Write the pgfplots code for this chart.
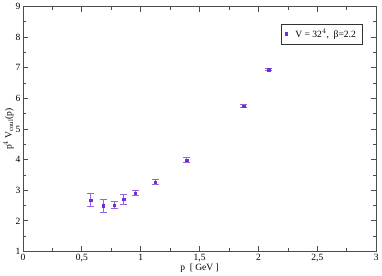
\documentclass[border=0pt]{standalone}
\usepackage{pgfplots}
\pgfplotsset{compat=1.18}
\usepackage{fontspec}
\setmainfont{Liberation Serif}
\definecolor{pt}{RGB}{112,48,208}
\definecolor{eb}{RGB}{150,100,225}
\begin{document}
\begin{tikzpicture}
\begin{axis}[
  scale only axis, width=352pt, height=244pt,
  xmin=0, xmax=3, ymin=1, ymax=9,
  xtick={0,0.5,1,1.5,2,2.5,3},
  xticklabels={0,{0,5},1,{1,5},2,{2,5},3},
  ytick={1,2,...,9},
  minor x tick num=1, minor y tick num=1,
  tick align=inside,
  major tick length=5pt, minor tick length=3pt,
  axis line style={black!70, line width=0.8pt},
  every tick/.style={black!70, line width=0.8pt},
  tick label style={font=\fontsize{9.5}{11}\selectfont},
  /pgf/number format/assume math mode=true,
  xticklabel style={yshift=1pt},
  yticklabel style={xshift=1pt},
  xlabel={p\ \ [ GeV ]}, ylabel={p$^{4}$ V$_{\mathrm{coul}}$(p)},
  label style={font=\fontsize{9.5}{11}\selectfont},
  xlabel style={yshift=5pt},
  ylabel style={yshift=-5pt},
  legend style={at={(0.96,0.93)}, anchor=north east, draw=black!80, line width=0.6pt, font=\fontsize{9.5}{11}\selectfont, inner xsep=4pt, inner ysep=3pt},
  legend cell align=left,
]
\addplot[only marks, mark=square*, mark size=1.2pt, color=pt,
  error bars/.cd, y dir=both, y explicit, error bar style={eb, line width=0.8pt}, error mark options={rotate=90, mark size=3.5pt, eb, line width=0.8pt}]
coordinates {
(0.574,2.68) +- (0,0.22)
(0.682,2.49) +- (0,0.20)
(0.776,2.51) +- (0,0.11)
(0.855,2.70) +- (0,0.15)
(0.955,2.91) +- (0,0.07)
(1.125,3.26) +- (0,0.08)
(1.390,3.99) +- (0,0.09)
(1.873,5.74) +- (0,0.05)
(2.086,6.94) +- (0,0.04)
};
\addlegendentry{\hspace{6pt}V = 32$^{4}$,\ \ β=2.2}
\end{axis}
\end{tikzpicture}
\end{document}
